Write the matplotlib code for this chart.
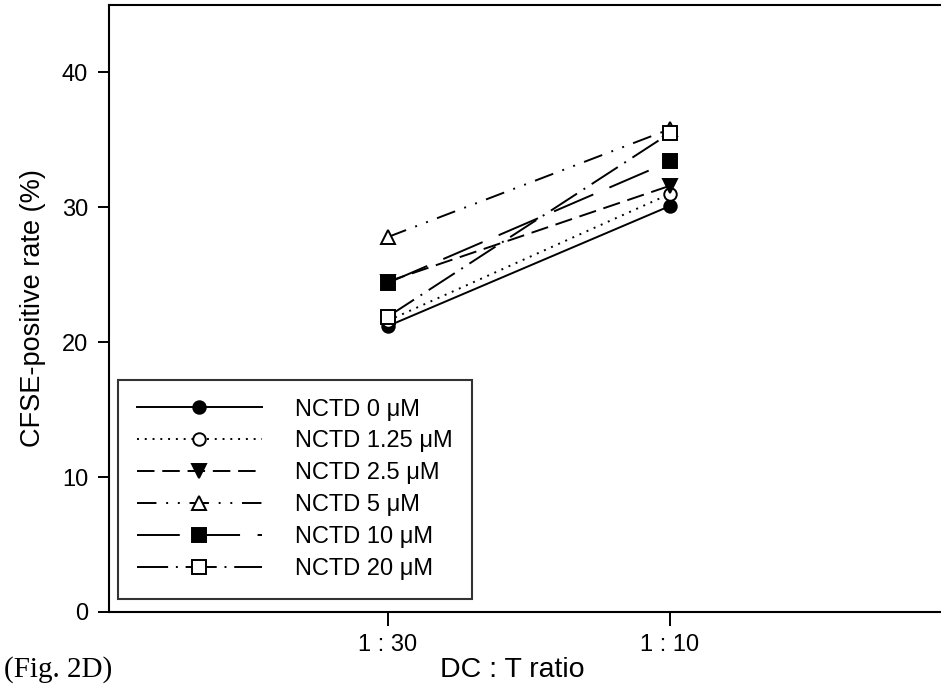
import matplotlib
matplotlib.use("Agg")
import matplotlib.pyplot as plt

plt.rcParams['font.family'] = ['Liberation Sans', 'DejaVu Sans']

ratios = ["1 : 30", "1 : 10"]
x_pos = [1, 2]
labels = ["NCTD 0 μM", "NCTD 1.25 μM", "NCTD 2.5 μM", "NCTD 5 μM", "NCTD 10 μM", "NCTD 20 μM"]
nctd_0 = [21.2, 30.1]
nctd_1_25 = [21.6, 31.0]
nctd_2_5 = [24.5, 31.6]
nctd_5 = [27.8, 35.8]
nctd_10 = [24.4, 33.4]
nctd_20 = [21.9, 35.5]
series = [nctd_0, nctd_1_25, nctd_2_5, nctd_5, nctd_10, nctd_20]

styles = [
    dict(linestyle='-', marker='o', mfc='black', markersize=9),
    dict(linestyle=(0, (1, 3)), marker='o', mfc='white', markersize=9),
    dict(linestyle=(0, (9, 4)), marker='v', mfc='black', markersize=10),
    dict(linestyle=(0, (10, 5, 1, 5, 1, 5)), marker='^', mfc='white', markersize=10),
    dict(linestyle=(0, (22, 9)), marker='s', mfc='black', markersize=9.5),
    dict(linestyle=(0, (16, 4, 1, 4)), marker='s', mfc='white', markersize=9.5),
]

fig = plt.figure(figsize=(9.41, 6.92), dpi=100)
ax = fig.add_axes([109/941, 1-612/692, 832/941, 607/692])

for vals, lab, st in zip(series, labels, styles):
    ax.plot(x_pos, vals, color='black', lw=1.4,
            mec='black', mew=1.4, label=lab, **st)

ax.set_xlim(0.011, 2.961)
ax.set_ylim(0, 45)
ax.set_xticks(x_pos)
ax.set_xticklabels(ratios)
ax.set_yticks([0, 10, 20, 30, 40])
ax.tick_params(axis='y', labelsize=17, length=8, width=1.4, pad=7)
ax.tick_params(axis='x', labelsize=17, length=10, width=1.4, pad=6)
for s in ax.spines.values():
    s.set_linewidth(1.5)
ax.spines['right'].set_visible(False)

ax.set_ylabel("CFSE-positive rate (%)", fontsize=19.5, va='center')
ax.yaxis.set_label_coords(-(109-33)/832, 0.5)
ax.set_xlabel("DC : T ratio", fontsize=20.5, va='center')
ax.xaxis.set_label_coords((512-109)/832, -(670-612)/607)

leg = ax.legend(loc='lower left', bbox_to_anchor=((118-109)/832, (612-599)/607, (472-118)/832, (599-373)/607),
                mode='expand', fontsize=17, frameon=True, fancybox=False,
                handlelength=5.3, handletextpad=1.4, borderpad=0.8, labelspacing=0.42,
                borderaxespad=0)
leg.get_frame().set_edgecolor('black')
leg.get_frame().set_linewidth(1.5)

fig.text(4/941, 1-670/692, "(Fig. 2D)", fontsize=21, family='Liberation Serif', va='center', ha='left')

fig.savefig("out.png", dpi=100)
